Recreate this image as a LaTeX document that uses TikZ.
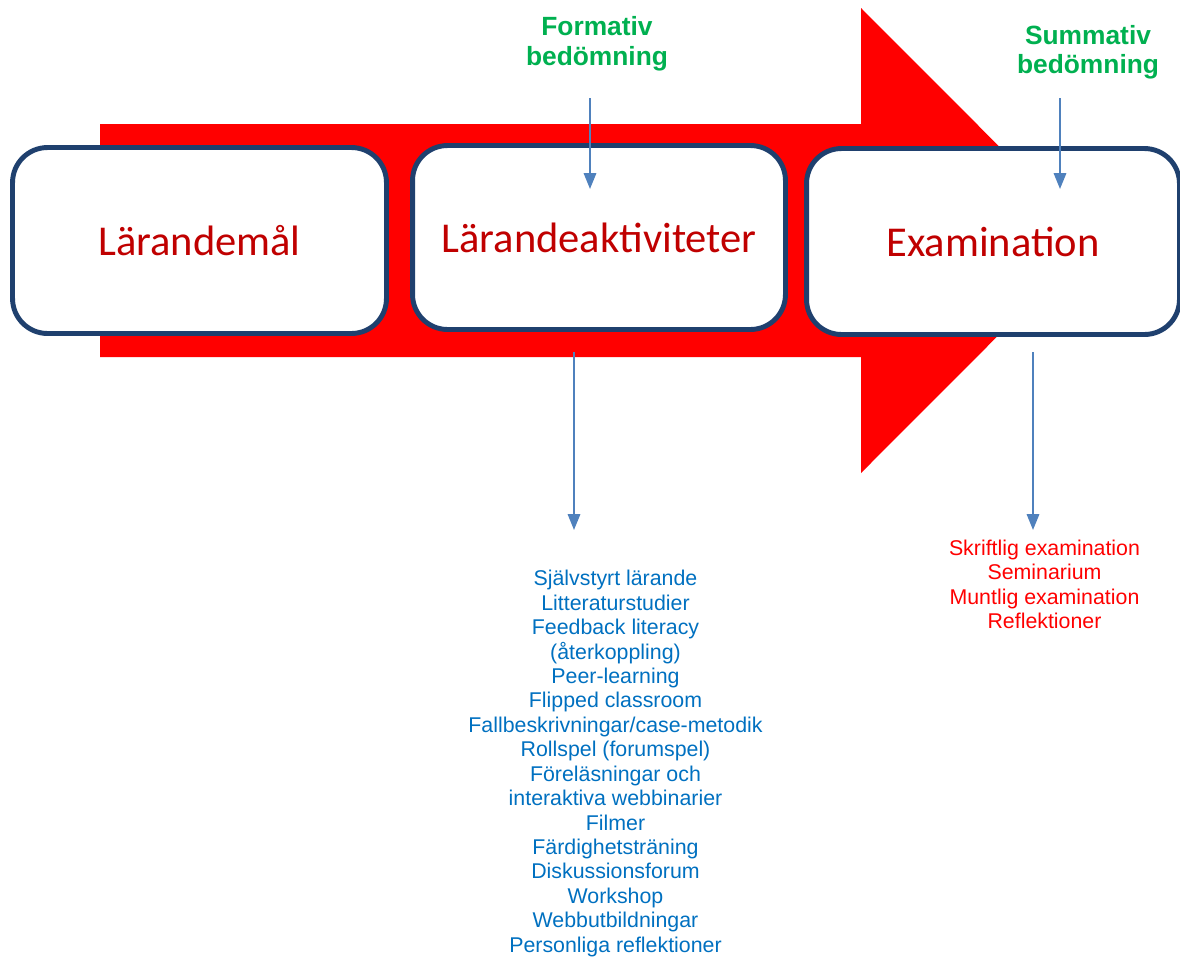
\documentclass[tikz,border=0pt]{standalone}
\usepackage{fontspec}
\setmainfont{Liberation Sans}
\newfontfamily\boxfont{Carlito}
\usetikzlibrary{arrows.meta}
\definecolor{arrred}{HTML}{FF0000}
\definecolor{boxblue}{HTML}{1F406E}
\definecolor{labred}{HTML}{C00000}
\definecolor{assgreen}{HTML}{00B050}
\definecolor{linkblue}{HTML}{4F81BD}
\definecolor{listblue}{HTML}{0070C0}
\tikzset{
  px/.style={x=0.02cm,y=-0.02cm},
  stagebox/.style={draw=boxblue, line width=2.8pt, fill=white, rounded corners=0.7cm,
    font=\boxfont\fontsize{24.2}{28}\selectfont, text=labred, inner sep=0pt},
  assess/.style={font=\bfseries\fontsize{15}{16.8}\selectfont, text=assgreen, align=center},
  listtext/.style={font=\fontsize{12.15}{13.9}\selectfont, align=center},
  link/.style={draw=linkblue, line width=1.2pt, -{Triangle[length=9pt,width=7pt]}}
}
\begin{document}
\begin{tikzpicture}[px]
\useasboundingbox (0,0) rectangle (1180,958);
\fill[arrred] (100,124) -- (861,124) -- (861,8) -- (1093,240.5) -- (861,473) -- (861,357) -- (100,357) -- cycle;
\node[stagebox, minimum width=7.48cm, minimum height=3.72cm] (b1) at (199.5,240.5) {Lärandemål};
\node[stagebox, minimum width=7.46cm, minimum height=3.68cm] (b2) at (599,237.5) {Lärandeaktiviteter};
\node[stagebox, minimum width=7.46cm, minimum height=3.72cm] (b3) at (993,241.5) {Examination};
\node[assess] (form) at (597,43.5) {Formativ\\bedömning};
\node[assess] (summ) at (1088,52) {Summativ\\bedömning};
\coordinate (fa) at (590,98);
\coordinate (fb) at (590,189);
\coordinate (sa) at (1060,98);
\coordinate (sb) at (1060,189);
\coordinate (la) at (574,352);
\coordinate (lb) at (574,530);
\coordinate (ea) at (1033,352);
\coordinate (eb) at (1033,530);
\draw[link] (fa) -- (fb);
\draw[link] (sa) -- (sb);
\draw[link] (la) -- (lb);
\draw[link] (ea) -- (eb);
\node[listtext, text=listblue] (acts) at (615.5,763.5) {Självstyrt lärande\\Litteraturstudier\\Feedback literacy\\(återkoppling)\\Peer-learning\\Flipped classroom\\Fallbeskrivningar/case-metodik\\Rollspel (forumspel)\\Föreläsningar och\\interaktiva webbinarier\\Filmer\\Färdighetsträning\\Diskussionsforum\\Workshop\\Webbutbildningar\\Personliga reflektioner};
\node[listtext, text=arrred] (exams) at (1044.5,584.5) {Skriftlig examination\\Seminarium\\Muntlig examination\\Reflektioner};
\end{tikzpicture}
\end{document}
